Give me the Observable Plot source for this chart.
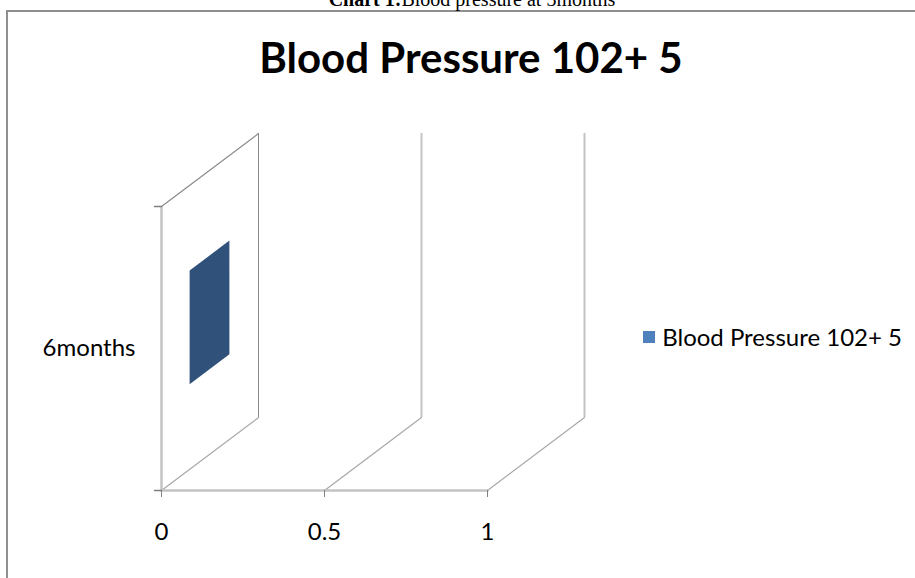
<!DOCTYPE html>
<html>
<head>
<meta charset="utf-8">
<script src="https://cdn.jsdelivr.net/npm/d3@7"></script>
<script src="https://cdn.jsdelivr.net/npm/@observablehq/plot@0.6"></script>
<style>
  html, body { margin: 0; padding: 0; background: #fff; }
  #wrap { position: relative; width: 915px; height: 578px; overflow: hidden; font-family: Lato, "Open Sans", sans-serif; }
  #border { position: absolute; left: 6px; top: 10px; width: 2000px; height: 2000px; border-left: 2px solid #8f8f8f; border-top: 2px solid #8f8f8f; }
  #caption { position: absolute; left: 0; width: 944px; top: -11px; text-align: center; font-family: "Liberation Serif", "DejaVu Serif", serif; font-size: 20px; line-height: 1; color: #000; white-space: nowrap; }
  #title { position: absolute; left: 71px; width: 800px; top: 36px; text-align: center; font-weight: bold; font-size: 42px; line-height: 1; color: #000; white-space: nowrap; }
  #legend { position: absolute; right: 13px; top: 325px; display: flex; align-items: center; font-size: 24px; line-height: 1; color: #000; white-space: nowrap; }
  #legend .key { width: 12px; height: 12px; margin-right: 7px; }
  #chart { position: absolute; left: 0; top: 0; }
</style>
</head>
<body>
<div id="wrap">
  <div id="border"></div>
  <div id="caption"></div>
  <div id="title"></div>
  <div id="legend"></div>
  <div id="chart"></div>
</div>
<script>
// ---- data ----
const categories = ["6months"];
const values = [0];
const seriesName = "Blood Pressure 102+ 5";
const seriesColor = "#4f81bd";
const faceColor = "#30517a";
const xDomain = [0, 1];
const xTicks = [0, 0.5, 1];
const chartTitle = "Blood Pressure 102+ 5";
const captionBold = "Chart 1:";
const captionText = "Blood pressure at 3months";

const rows = categories.map((c, i) => ({category: c, value: values[i]}));

// ---- 3D styling (pixel offsets of the depth axis) ----
const DX = 97, DY = -73;
const yRange = [206, 490];
const band = (yRange[1] - yRange[0]) / categories.length;
const barHalf = band * 0.4 / 2;      // gap width 150%
const depth1 = 0.29, depth2 = 0.70;  // series depth inside the floor

const depthLine = {draw(ctx) { ctx.moveTo(0, 0); ctx.lineTo(DX, DY); }};
const tickLeft = {draw(ctx) { ctx.moveTo(0, 0); ctx.lineTo(-7, 0); }};
const barFace = {draw(ctx) {
  ctx.moveTo(depth1 * DX, depth1 * DY - barHalf);
  ctx.lineTo(depth2 * DX, depth2 * DY - barHalf);
  ctx.lineTo(depth2 * DX, depth2 * DY + barHalf);
  ctx.lineTo(depth1 * DX, depth1 * DY + barHalf);
  ctx.closePath();
}};

const chart = Plot.plot({
  width: 915,
  height: 578,
  marginLeft: 161,
  marginRight: 428,
  marginTop: yRange[0],
  marginBottom: 578 - yRange[1],
  x: {domain: xDomain},
  y: {domain: categories, padding: 0},
  style: {background: "transparent", fontFamily: "Lato, 'Open Sans', sans-serif", color: "#000", overflow: "visible"},
  marks: [
    // back wall gridlines
    Plot.ruleX(xTicks.slice(1), {dx: DX, dy: DY, stroke: "#c3c3c3", strokeWidth: 2}),
    // back edge of left wall
    Plot.ruleX([xDomain[0]], {dx: DX, dy: DY, stroke: "#8a8a8a", strokeWidth: 1}),
    // floor gridlines
    Plot.vector(xTicks, {x: d => d, frameAnchor: "bottom", anchor: "start", shape: depthLine, stroke: "#a8a8a8", strokeWidth: 1.2, fill: "none"}),
    // top edge of left wall
    Plot.vector([xDomain[0]], {x: d => d, frameAnchor: "top", anchor: "start", shape: depthLine, stroke: "#8a8a8a", strokeWidth: 1.2, fill: "none"}),
    // value axis line (bottom) and category axis line (left)
    Plot.frame({anchor: "bottom", stroke: "#c3c3c3", strokeWidth: 2.5}),
    Plot.ruleX([xDomain[0]], {stroke: "#c3c3c3", strokeWidth: 2.5}),
    // category axis tick marks at the band edges
    Plot.vector([xDomain[0]], {x: d => d, frameAnchor: "top", anchor: "start", shape: tickLeft, stroke: "#7f7f7f", strokeWidth: 1.5, fill: "none"}),
    Plot.vector([xDomain[0]], {x: d => d, frameAnchor: "bottom", anchor: "start", shape: tickLeft, stroke: "#7f7f7f", strokeWidth: 1.5, fill: "none"}),
    // bar (zero-length bar: only its end face is seen)
    Plot.vector(rows, {x: "value", y: "category", anchor: "start", shape: barFace, fill: faceColor, stroke: "none"}),
    // axes
    Plot.axisX({ticks: xTicks, tickSize: 7, tickPadding: 25, stroke: "#7f7f7f", fontSize: 24, label: null, tickFormat: d => String(d)}),
    Plot.axisY({tickSize: 0, tickPadding: 26, fontSize: 24, label: null})
  ]
});
document.getElementById("chart").appendChild(chart);

// caption, title and legend
const cap = document.getElementById("caption");
const b = document.createElement("b"); b.textContent = captionBold;
cap.appendChild(b); cap.appendChild(document.createTextNode(captionText));
document.getElementById("title").textContent = chartTitle;
const leg = document.getElementById("legend");
const key = document.createElement("span"); key.className = "key"; key.style.background = seriesColor;
const lab = document.createElement("span"); lab.textContent = seriesName;
leg.appendChild(key); leg.appendChild(lab);
</script>
</body>
</html>
